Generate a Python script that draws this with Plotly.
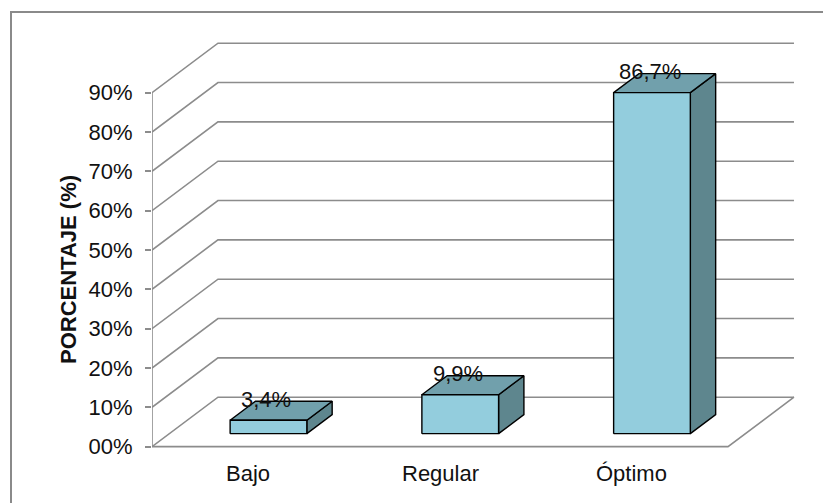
import plotly.graph_objects as go

# ---- data ----
categories = ["Bajo", "Regular", "Óptimo"]
values = [3.4, 9.9, 86.7]
y_ticks = [0, 10, 20, 30, 40, 50, 60, 70, 80, 90]
y_ticklabels = ["00%", "10%", "20%", "30%", "40%", "50%", "60%", "70%", "80%", "90%"]
y_title = "PORCENTAJE (%)"

# ---- 3D projection geometry (style constants) ----
DX = 0.344      # full depth offset along x (axis units)
DY = 12.58      # full depth offset along y (axis units)
F0, F1 = 0.263, 0.647   # bar depth start/end (fraction of full depth)
BW = 0.40       # bar width
U_LEFT, U_RIGHT = -0.517, 2.487   # floor extent (front plane)

FRONT = "#93CDDD"
TOP = "#71A0AC"
SIDE = "#5E868E"
GRID = "#8c8c8c"
FONT = "Arial, Liberation Sans, sans-serif"


def proj(u, d, v):
    return u + d * DX, v + d * DY


fig = go.Figure()

# grid: front-to-back diagonals and back wall lines
gx, gy = [], []
for v in y_ticks:
    for (u, d) in [(U_LEFT, 0), (U_LEFT, 1), (U_RIGHT, 1)]:
        x, y = proj(u, d, v)
        gx.append(x); gy.append(y)
    gx.append(None); gy.append(None)
# floor front edge and right diagonal
for (u, d) in [(U_LEFT, 0), (U_RIGHT, 0), (U_RIGHT, 1)]:
    x, y = proj(u, d, 0)
    gx.append(x); gy.append(y)
gx.append(None); gy.append(None)
# vertical axis line
for v in [0, y_ticks[-1]]:
    x, y = proj(U_LEFT, 0, v)
    gx.append(x); gy.append(y)

fig.add_trace(go.Scatter(x=gx, y=gy, mode="lines",
                         line=dict(color=GRID, width=1.6),
                         hoverinfo="skip", showlegend=False))


def poly(points, color):
    xs, ys = [], []
    for (u, d, v) in points + [points[0]]:
        x, y = proj(u, d, v)
        xs.append(x); ys.append(y)
    fig.add_trace(go.Scatter(x=xs, y=ys, mode="lines", fill="toself",
                             fillcolor=color, line=dict(color="black", width=1.4),
                             hoverinfo="skip", showlegend=False))


annotations = []
for i, (cat, val) in enumerate(zip(categories, values)):
    c = i
    l, r = c - BW / 2, c + BW / 2
    # side face
    poly([(r, F0, 0), (r, F1, 0), (r, F1, val), (r, F0, val)], SIDE)
    # top face
    poly([(l, F0, val), (r, F0, val), (r, F1, val), (l, F1, val)], TOP)
    # front face
    poly([(l, F0, 0), (r, F0, 0), (r, F0, val), (l, F0, val)], FRONT)

    lx, ly = proj(c, F0, val)
    annotations.append(dict(x=lx, y=ly, xref="x", yref="y",
                            text=f"{val:.1f}%".replace(".", ","),
                            showarrow=False, xanchor="center", yanchor="middle",
                            yshift=21, xshift=-2,
                            font=dict(family=FONT, size=22, color="#111111")))
    cx, _ = proj(c, F0, 0)
    annotations.append(dict(x=cx, y=0, xref="x", yref="y", text=cat,
                            showarrow=False, xanchor="center", yanchor="middle",
                            yshift=-27, xshift=-20,
                            font=dict(family=FONT, size=22, color="#111111")))

annotations.append(dict(x=(68 - 152) / 671, y=(486 - 270) / 472,
                        xref="paper", yref="paper", text=f"<b>{y_title}</b>",
                        textangle=-90, showarrow=False,
                        xanchor="center", yanchor="middle",
                        font=dict(family=FONT, size=22, color="#111111")))

# outer chart border
fig.add_shape(type="rect", xref="paper", yref="paper",
              x0=(11 - 152) / 671, x1=1.05, y0=-0.1, y1=(486 - 12) / 472,
              line=dict(color="#8a8a8a", width=2), fillcolor="rgba(0,0,0,0)")

fig.update_layout(
    width=823, height=503,
    margin=dict(l=152, r=0, t=14, b=17, pad=0),
    paper_bgcolor="white", plot_bgcolor="white",
    showlegend=False,
    annotations=annotations,
    xaxis=dict(range=[U_LEFT, U_LEFT + 671 / 191.75], visible=False, fixedrange=True),
    yaxis=dict(range=[-10, 110], showgrid=False, zeroline=False, showline=False,
               tickvals=y_ticks, ticktext=y_ticklabels,
               ticks="outside", ticklen=6, tickwidth=1.6, tickcolor=GRID,
               ticklabelstandoff=8,
               tickfont=dict(family=FONT, size=22, color="#111111"),
               fixedrange=True),
)

fig.write_html("out.html")
